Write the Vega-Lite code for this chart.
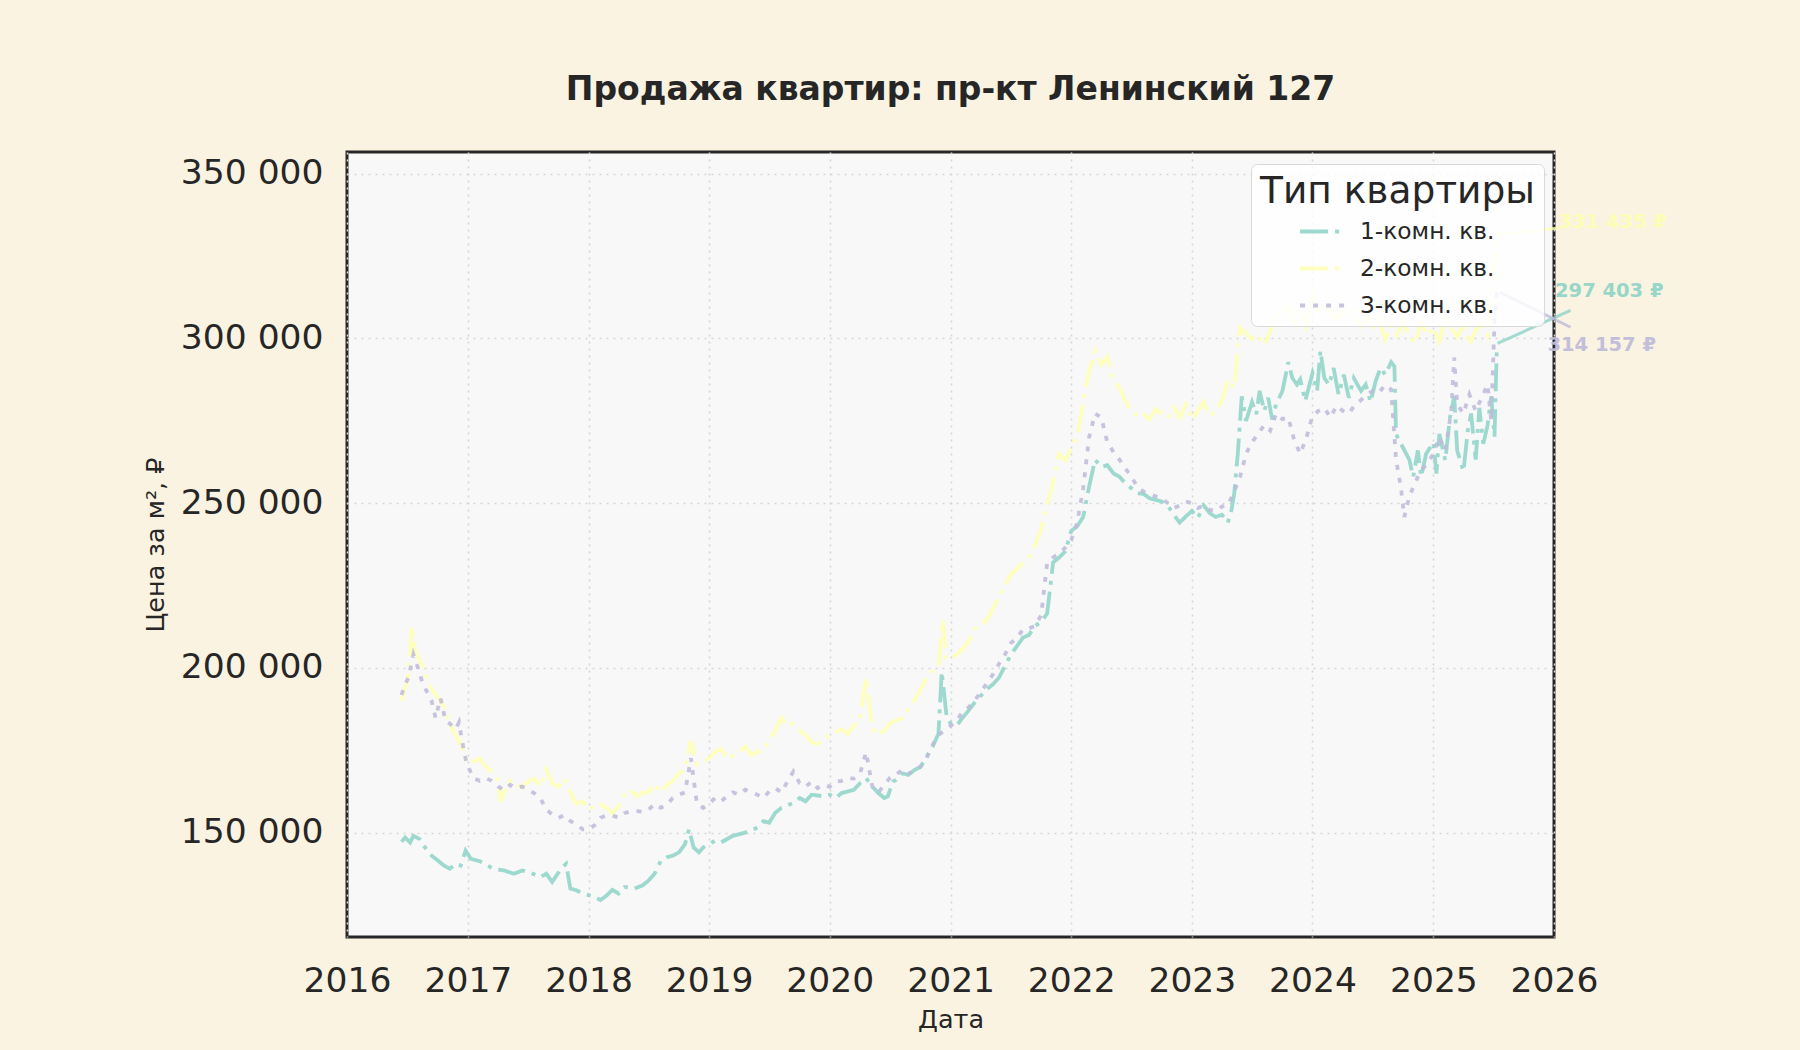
{
  "$schema": "https://vega.github.io/schema/vega-lite/v6.json",
  "width": 1207,
  "height": 785,
  "autosize": {"type": "none"},
  "padding": {"left": 347, "top": 152, "right": 246, "bottom": 113},
  "background": "#faf3e1",
  "title": {
    "text": "Продажа квартир: пр-кт Ленинский 127",
    "font": "DejaVu Sans",
    "fontSize": 33,
    "fontWeight": "bold",
    "color": "#262626",
    "anchor": "middle",
    "offset": 45
  },
  "config": {
    "locale": {"number": {"decimal": ",", "thousands": " ", "grouping": [3], "currency": ["", " ₽"]}},
    "view": {"fill": "#f8f8f8", "stroke": "#262626", "strokeWidth": 3},
    "axis": {
      "labelFont": "DejaVu Sans",
      "labelFontSize": 34.5,
      "labelColor": "#262626",
      "titleFont": "DejaVu Sans",
      "titleFontSize": 25.5,
      "titleFontWeight": "normal",
      "titleColor": "#262626",
      "domain": false,
      "ticks": false,
      "grid": true,
      "gridColor": "#d6d6d6",
      "gridDash": [2, 5],
      "gridWidth": 1.6
    }
  },
  "datasets": {
    "prices": [
      {"d": "2016-06-14", "t": "1-комн. кв.", "v": 147200},
      {"d": "2016-06-25", "t": "1-комн. кв.", "v": 148500},
      {"d": "2016-07-10", "t": "1-комн. кв.", "v": 147000},
      {"d": "2016-07-20", "t": "1-комн. кв.", "v": 149000},
      {"d": "2016-08-08", "t": "1-комн. кв.", "v": 148000},
      {"d": "2016-08-20", "t": "1-комн. кв.", "v": 146000},
      {"d": "2016-09-13", "t": "1-комн. кв.", "v": 143000},
      {"d": "2016-10-02", "t": "1-комн. кв.", "v": 141500},
      {"d": "2016-10-20", "t": "1-комн. кв.", "v": 140000},
      {"d": "2016-11-07", "t": "1-комн. кв.", "v": 139000},
      {"d": "2016-11-25", "t": "1-комн. кв.", "v": 140500},
      {"d": "2016-12-10", "t": "1-комн. кв.", "v": 140000},
      {"d": "2016-12-25", "t": "1-комн. кв.", "v": 144500},
      {"d": "2017-01-10", "t": "1-комн. кв.", "v": 142000},
      {"d": "2017-02-06", "t": "1-комн. кв.", "v": 141300},
      {"d": "2017-03-01", "t": "1-комн. кв.", "v": 140000},
      {"d": "2017-03-20", "t": "1-комн. кв.", "v": 139000},
      {"d": "2017-04-20", "t": "1-комн. кв.", "v": 138500},
      {"d": "2017-05-20", "t": "1-комн. кв.", "v": 137500},
      {"d": "2017-06-15", "t": "1-комн. кв.", "v": 138500},
      {"d": "2017-07-10", "t": "1-комн. кв.", "v": 137800},
      {"d": "2017-08-08", "t": "1-комн. кв.", "v": 136500},
      {"d": "2017-08-26", "t": "1-комн. кв.", "v": 137500},
      {"d": "2017-09-13", "t": "1-комн. кв.", "v": 135000},
      {"d": "2017-09-25", "t": "1-комн. кв.", "v": 136800},
      {"d": "2017-10-10", "t": "1-комн. кв.", "v": 139000},
      {"d": "2017-10-25", "t": "1-комн. кв.", "v": 140500},
      {"d": "2017-11-07", "t": "1-комн. кв.", "v": 133000},
      {"d": "2017-11-25", "t": "1-комн. кв.", "v": 132500},
      {"d": "2017-12-14", "t": "1-комн. кв.", "v": 131500},
      {"d": "2018-01-01", "t": "1-комн. кв.", "v": 131000},
      {"d": "2018-01-19", "t": "1-комн. кв.", "v": 130500},
      {"d": "2018-02-06", "t": "1-комн. кв.", "v": 129500},
      {"d": "2018-02-24", "t": "1-комн. кв.", "v": 130800},
      {"d": "2018-03-14", "t": "1-комн. кв.", "v": 132600},
      {"d": "2018-04-02", "t": "1-комн. кв.", "v": 131500},
      {"d": "2018-04-20", "t": "1-комн. кв.", "v": 133500},
      {"d": "2018-05-20", "t": "1-комн. кв.", "v": 133000},
      {"d": "2018-06-14", "t": "1-комн. кв.", "v": 134000},
      {"d": "2018-07-02", "t": "1-комн. кв.", "v": 135500},
      {"d": "2018-07-20", "t": "1-комн. кв.", "v": 137500},
      {"d": "2018-08-08", "t": "1-комн. кв.", "v": 141500},
      {"d": "2018-08-26", "t": "1-комн. кв.", "v": 142500},
      {"d": "2018-09-13", "t": "1-комн. кв.", "v": 143000},
      {"d": "2018-10-02", "t": "1-комн. кв.", "v": 144000},
      {"d": "2018-10-20", "t": "1-комн. кв.", "v": 146500},
      {"d": "2018-11-01", "t": "1-комн. кв.", "v": 151000},
      {"d": "2018-11-15", "t": "1-комн. кв.", "v": 145500},
      {"d": "2018-12-01", "t": "1-комн. кв.", "v": 144000},
      {"d": "2018-12-14", "t": "1-комн. кв.", "v": 145500},
      {"d": "2019-01-01", "t": "1-комн. кв.", "v": 146500},
      {"d": "2019-01-19", "t": "1-комн. кв.", "v": 147500},
      {"d": "2019-02-06", "t": "1-комн. кв.", "v": 147000},
      {"d": "2019-03-14", "t": "1-комн. кв.", "v": 149000},
      {"d": "2019-04-20", "t": "1-комн. кв.", "v": 150000},
      {"d": "2019-05-27", "t": "1-комн. кв.", "v": 151500},
      {"d": "2019-06-14", "t": "1-комн. кв.", "v": 153500},
      {"d": "2019-07-02", "t": "1-комн. кв.", "v": 153000},
      {"d": "2019-07-20", "t": "1-комн. кв.", "v": 156000},
      {"d": "2019-08-08", "t": "1-комн. кв.", "v": 157500},
      {"d": "2019-09-13", "t": "1-комн. кв.", "v": 159000},
      {"d": "2019-10-02", "t": "1-комн. кв.", "v": 160500},
      {"d": "2019-10-20", "t": "1-комн. кв.", "v": 159500},
      {"d": "2019-11-07", "t": "1-комн. кв.", "v": 161500},
      {"d": "2019-12-14", "t": "1-комн. кв.", "v": 161000},
      {"d": "2020-01-01", "t": "1-комн. кв.", "v": 161500},
      {"d": "2020-01-19", "t": "1-комн. кв.", "v": 160500},
      {"d": "2020-02-06", "t": "1-комн. кв.", "v": 162000},
      {"d": "2020-03-14", "t": "1-комн. кв.", "v": 163000},
      {"d": "2020-04-02", "t": "1-комн. кв.", "v": 165000},
      {"d": "2020-04-20", "t": "1-комн. кв.", "v": 166500},
      {"d": "2020-05-09", "t": "1-комн. кв.", "v": 164000},
      {"d": "2020-05-27", "t": "1-комн. кв.", "v": 162000},
      {"d": "2020-06-14", "t": "1-комн. кв.", "v": 160500},
      {"d": "2020-06-25", "t": "1-комн. кв.", "v": 161000},
      {"d": "2020-07-10", "t": "1-комн. кв.", "v": 165500},
      {"d": "2020-07-20", "t": "1-комн. кв.", "v": 166000},
      {"d": "2020-08-08", "t": "1-комн. кв.", "v": 168000},
      {"d": "2020-08-26", "t": "1-комн. кв.", "v": 167500},
      {"d": "2020-09-13", "t": "1-комн. кв.", "v": 169000},
      {"d": "2020-10-02", "t": "1-комн. кв.", "v": 170000},
      {"d": "2020-10-20", "t": "1-комн. кв.", "v": 173000},
      {"d": "2020-11-07", "t": "1-комн. кв.", "v": 176000},
      {"d": "2020-11-25", "t": "1-комн. кв.", "v": 180000},
      {"d": "2020-12-05", "t": "1-комн. кв.", "v": 198800},
      {"d": "2020-12-20", "t": "1-комн. кв.", "v": 185000},
      {"d": "2021-01-01", "t": "1-комн. кв.", "v": 183100},
      {"d": "2021-01-19", "t": "1-комн. кв.", "v": 182500},
      {"d": "2021-02-06", "t": "1-комн. кв.", "v": 184800},
      {"d": "2021-02-24", "t": "1-комн. кв.", "v": 187000},
      {"d": "2021-03-14", "t": "1-комн. кв.", "v": 189400},
      {"d": "2021-04-02", "t": "1-комн. кв.", "v": 191500},
      {"d": "2021-04-20", "t": "1-комн. кв.", "v": 193500},
      {"d": "2021-05-09", "t": "1-комн. кв.", "v": 195000},
      {"d": "2021-05-27", "t": "1-комн. кв.", "v": 197000},
      {"d": "2021-06-14", "t": "1-комн. кв.", "v": 200500},
      {"d": "2021-07-02", "t": "1-комн. кв.", "v": 204000},
      {"d": "2021-07-20", "t": "1-комн. кв.", "v": 206500},
      {"d": "2021-08-08", "t": "1-комн. кв.", "v": 209200},
      {"d": "2021-08-26", "t": "1-комн. кв.", "v": 210000},
      {"d": "2021-09-13", "t": "1-комн. кв.", "v": 212700},
      {"d": "2021-10-02", "t": "1-комн. кв.", "v": 214000},
      {"d": "2021-10-20", "t": "1-комн. кв.", "v": 216500},
      {"d": "2021-11-07", "t": "1-комн. кв.", "v": 232000},
      {"d": "2021-11-25", "t": "1-комн. кв.", "v": 233500},
      {"d": "2021-12-14", "t": "1-комн. кв.", "v": 235400},
      {"d": "2022-01-01", "t": "1-комн. кв.", "v": 241600},
      {"d": "2022-01-19", "t": "1-комн. кв.", "v": 243000},
      {"d": "2022-02-06", "t": "1-комн. кв.", "v": 245800},
      {"d": "2022-02-24", "t": "1-комн. кв.", "v": 255000},
      {"d": "2022-03-14", "t": "1-комн. кв.", "v": 263200},
      {"d": "2022-04-02", "t": "1-комн. кв.", "v": 261000},
      {"d": "2022-04-20", "t": "1-комн. кв.", "v": 261500},
      {"d": "2022-05-09", "t": "1-комн. кв.", "v": 259000},
      {"d": "2022-05-27", "t": "1-комн. кв.", "v": 258000},
      {"d": "2022-06-14", "t": "1-комн. кв.", "v": 256000},
      {"d": "2022-07-02", "t": "1-комн. кв.", "v": 254500},
      {"d": "2022-07-20", "t": "1-комн. кв.", "v": 253000},
      {"d": "2022-08-08", "t": "1-комн. кв.", "v": 252800},
      {"d": "2022-08-26", "t": "1-комн. кв.", "v": 251500},
      {"d": "2022-09-13", "t": "1-комн. кв.", "v": 251000},
      {"d": "2022-10-02", "t": "1-комн. кв.", "v": 250500},
      {"d": "2022-10-20", "t": "1-комн. кв.", "v": 249300},
      {"d": "2022-11-07", "t": "1-комн. кв.", "v": 246500},
      {"d": "2022-11-25", "t": "1-комн. кв.", "v": 244100},
      {"d": "2022-12-14", "t": "1-комн. кв.", "v": 246000},
      {"d": "2023-01-01", "t": "1-комн. кв.", "v": 247600},
      {"d": "2023-01-19", "t": "1-комн. кв.", "v": 245500},
      {"d": "2023-02-06", "t": "1-комн. кв.", "v": 249300},
      {"d": "2023-02-24", "t": "1-комн. кв.", "v": 247000},
      {"d": "2023-03-14", "t": "1-комн. кв.", "v": 245800},
      {"d": "2023-04-02", "t": "1-комн. кв.", "v": 246500},
      {"d": "2023-04-20", "t": "1-комн. кв.", "v": 244100},
      {"d": "2023-05-01", "t": "1-комн. кв.", "v": 248000},
      {"d": "2023-05-09", "t": "1-комн. кв.", "v": 252800},
      {"d": "2023-05-20", "t": "1-комн. кв.", "v": 265000},
      {"d": "2023-06-01", "t": "1-комн. кв.", "v": 282400},
      {"d": "2023-06-14", "t": "1-комн. кв.", "v": 275000},
      {"d": "2023-07-02", "t": "1-комн. кв.", "v": 280700},
      {"d": "2023-07-15", "t": "1-комн. кв.", "v": 277000},
      {"d": "2023-07-25", "t": "1-комн. кв.", "v": 284100},
      {"d": "2023-08-08", "t": "1-комн. кв.", "v": 278000},
      {"d": "2023-08-20", "t": "1-комн. кв.", "v": 282000},
      {"d": "2023-09-01", "t": "1-комн. кв.", "v": 275400},
      {"d": "2023-09-13", "t": "1-комн. кв.", "v": 280000},
      {"d": "2023-10-02", "t": "1-комн. кв.", "v": 284000},
      {"d": "2023-10-20", "t": "1-комн. кв.", "v": 292800},
      {"d": "2023-11-01", "t": "1-комн. кв.", "v": 288000},
      {"d": "2023-11-15", "t": "1-комн. кв.", "v": 286000},
      {"d": "2023-11-25", "t": "1-комн. кв.", "v": 287600},
      {"d": "2023-12-10", "t": "1-комн. кв.", "v": 281000},
      {"d": "2024-01-01", "t": "1-комн. кв.", "v": 289400},
      {"d": "2024-01-15", "t": "1-комн. кв.", "v": 284000},
      {"d": "2024-01-25", "t": "1-комн. кв.", "v": 296300},
      {"d": "2024-02-06", "t": "1-комн. кв.", "v": 288000},
      {"d": "2024-02-20", "t": "1-комн. кв.", "v": 285900},
      {"d": "2024-03-05", "t": "1-комн. кв.", "v": 291000},
      {"d": "2024-03-20", "t": "1-комн. кв.", "v": 283000},
      {"d": "2024-04-05", "t": "1-комн. кв.", "v": 289000},
      {"d": "2024-04-20", "t": "1-комн. кв.", "v": 282000},
      {"d": "2024-05-05", "t": "1-комн. кв.", "v": 288000},
      {"d": "2024-05-27", "t": "1-комн. кв.", "v": 284100},
      {"d": "2024-06-10", "t": "1-комн. кв.", "v": 286000},
      {"d": "2024-06-25", "t": "1-комн. кв.", "v": 280700},
      {"d": "2024-07-10", "t": "1-комн. кв.", "v": 287000},
      {"d": "2024-07-25", "t": "1-комн. кв.", "v": 291100},
      {"d": "2024-08-08", "t": "1-комн. кв.", "v": 289000},
      {"d": "2024-08-26", "t": "1-комн. кв.", "v": 292800},
      {"d": "2024-09-05", "t": "1-комн. кв.", "v": 291500},
      {"d": "2024-09-10", "t": "1-комн. кв.", "v": 270900},
      {"d": "2024-09-25", "t": "1-комн. кв.", "v": 268000},
      {"d": "2024-10-20", "t": "1-комн. кв.", "v": 263200},
      {"d": "2024-11-01", "t": "1-комн. кв.", "v": 258000},
      {"d": "2024-11-15", "t": "1-комн. кв.", "v": 266000},
      {"d": "2024-11-25", "t": "1-комн. кв.", "v": 258000},
      {"d": "2024-12-10", "t": "1-комн. кв.", "v": 265000},
      {"d": "2025-01-01", "t": "1-комн. кв.", "v": 268500},
      {"d": "2025-01-10", "t": "1-комн. кв.", "v": 259000},
      {"d": "2025-01-19", "t": "1-комн. кв.", "v": 271000},
      {"d": "2025-02-06", "t": "1-комн. кв.", "v": 263000},
      {"d": "2025-02-20", "t": "1-комн. кв.", "v": 276000},
      {"d": "2025-03-05", "t": "1-комн. кв.", "v": 282400},
      {"d": "2025-03-14", "t": "1-комн. кв.", "v": 266000},
      {"d": "2025-04-02", "t": "1-комн. кв.", "v": 259700},
      {"d": "2025-04-15", "t": "1-комн. кв.", "v": 272000},
      {"d": "2025-04-25", "t": "1-комн. кв.", "v": 277200},
      {"d": "2025-05-09", "t": "1-комн. кв.", "v": 263200},
      {"d": "2025-05-20", "t": "1-комн. кв.", "v": 278900},
      {"d": "2025-06-01", "t": "1-комн. кв.", "v": 268000},
      {"d": "2025-06-14", "t": "1-комн. кв.", "v": 273700},
      {"d": "2025-06-25", "t": "1-комн. кв.", "v": 282400},
      {"d": "2025-07-05", "t": "1-комн. кв.", "v": 270200},
      {"d": "2025-07-12", "t": "1-комн. кв.", "v": 297403},

      {"d": "2016-06-14", "t": "2-комн. кв.", "v": 190000},
      {"d": "2016-06-25", "t": "2-комн. кв.", "v": 194000},
      {"d": "2016-07-05", "t": "2-комн. кв.", "v": 198000},
      {"d": "2016-07-15", "t": "2-комн. кв.", "v": 212700},
      {"d": "2016-07-25", "t": "2-комн. кв.", "v": 205000},
      {"d": "2016-08-08", "t": "2-комн. кв.", "v": 202300},
      {"d": "2016-08-26", "t": "2-комн. кв.", "v": 198000},
      {"d": "2016-09-13", "t": "2-комн. кв.", "v": 193500},
      {"d": "2016-10-02", "t": "2-комн. кв.", "v": 191000},
      {"d": "2016-10-20", "t": "2-комн. кв.", "v": 188300},
      {"d": "2016-11-07", "t": "2-комн. кв.", "v": 183000},
      {"d": "2016-11-25", "t": "2-комн. кв.", "v": 179600},
      {"d": "2016-12-14", "t": "2-комн. кв.", "v": 176100},
      {"d": "2017-01-01", "t": "2-комн. кв.", "v": 170900},
      {"d": "2017-01-19", "t": "2-комн. кв.", "v": 171500},
      {"d": "2017-02-06", "t": "2-комн. кв.", "v": 172600},
      {"d": "2017-02-24", "t": "2-комн. кв.", "v": 170000},
      {"d": "2017-03-14", "t": "2-комн. кв.", "v": 168500},
      {"d": "2017-04-02", "t": "2-комн. кв.", "v": 166000},
      {"d": "2017-04-10", "t": "2-комн. кв.", "v": 159400},
      {"d": "2017-04-20", "t": "2-комн. кв.", "v": 162200},
      {"d": "2017-05-09", "t": "2-комн. кв.", "v": 165700},
      {"d": "2017-05-27", "t": "2-комн. кв.", "v": 164000},
      {"d": "2017-06-14", "t": "2-комн. кв.", "v": 163900},
      {"d": "2017-07-02", "t": "2-комн. кв.", "v": 165500},
      {"d": "2017-07-20", "t": "2-комн. кв.", "v": 166400},
      {"d": "2017-08-08", "t": "2-комн. кв.", "v": 164000},
      {"d": "2017-08-26", "t": "2-комн. кв.", "v": 169200},
      {"d": "2017-09-13", "t": "2-комн. кв.", "v": 165000},
      {"d": "2017-10-02", "t": "2-комн. кв.", "v": 163900},
      {"d": "2017-10-20", "t": "2-комн. кв.", "v": 166400},
      {"d": "2017-11-07", "t": "2-комн. кв.", "v": 162200},
      {"d": "2017-11-25", "t": "2-комн. кв.", "v": 158700},
      {"d": "2017-12-14", "t": "2-комн. кв.", "v": 159500},
      {"d": "2018-01-01", "t": "2-комн. кв.", "v": 157000},
      {"d": "2018-01-19", "t": "2-комн. кв.", "v": 158000},
      {"d": "2018-02-06", "t": "2-комн. кв.", "v": 158700},
      {"d": "2018-02-24", "t": "2-комн. кв.", "v": 157500},
      {"d": "2018-03-14", "t": "2-комн. кв.", "v": 155900},
      {"d": "2018-04-02", "t": "2-комн. кв.", "v": 158000},
      {"d": "2018-04-20", "t": "2-комн. кв.", "v": 161500},
      {"d": "2018-05-09", "t": "2-комн. кв.", "v": 162900},
      {"d": "2018-05-27", "t": "2-комн. кв.", "v": 161000},
      {"d": "2018-06-14", "t": "2-комн. кв.", "v": 162200},
      {"d": "2018-07-02", "t": "2-комн. кв.", "v": 162200},
      {"d": "2018-07-20", "t": "2-комн. кв.", "v": 164800},
      {"d": "2018-08-08", "t": "2-комн. кв.", "v": 162200},
      {"d": "2018-08-26", "t": "2-комн. кв.", "v": 164500},
      {"d": "2018-09-13", "t": "2-комн. кв.", "v": 165700},
      {"d": "2018-10-02", "t": "2-комн. кв.", "v": 168000},
      {"d": "2018-10-20", "t": "2-комн. кв.", "v": 169200},
      {"d": "2018-11-07", "t": "2-комн. кв.", "v": 177900},
      {"d": "2018-11-25", "t": "2-комн. кв.", "v": 170900},
      {"d": "2018-12-14", "t": "2-комн. кв.", "v": 171500},
      {"d": "2019-01-01", "t": "2-комн. кв.", "v": 172600},
      {"d": "2019-01-19", "t": "2-комн. кв.", "v": 174500},
      {"d": "2019-02-06", "t": "2-комн. кв.", "v": 175400},
      {"d": "2019-02-24", "t": "2-комн. кв.", "v": 172500},
      {"d": "2019-03-14", "t": "2-комн. кв.", "v": 173300},
      {"d": "2019-04-02", "t": "2-комн. кв.", "v": 174500},
      {"d": "2019-04-20", "t": "2-комн. кв.", "v": 176100},
      {"d": "2019-05-09", "t": "2-комн. кв.", "v": 173500},
      {"d": "2019-05-27", "t": "2-комн. кв.", "v": 174500},
      {"d": "2019-06-14", "t": "2-комн. кв.", "v": 175000},
      {"d": "2019-07-02", "t": "2-комн. кв.", "v": 177900},
      {"d": "2019-07-20", "t": "2-комн. кв.", "v": 181000},
      {"d": "2019-08-08", "t": "2-комн. кв.", "v": 184800},
      {"d": "2019-08-26", "t": "2-комн. кв.", "v": 182400},
      {"d": "2019-09-13", "t": "2-комн. кв.", "v": 183100},
      {"d": "2019-10-02", "t": "2-комн. кв.", "v": 181000},
      {"d": "2019-10-20", "t": "2-комн. кв.", "v": 179600},
      {"d": "2019-11-07", "t": "2-комн. кв.", "v": 177500},
      {"d": "2019-11-25", "t": "2-комн. кв.", "v": 176800},
      {"d": "2019-12-14", "t": "2-комн. кв.", "v": 178500},
      {"d": "2020-01-01", "t": "2-комн. кв.", "v": 179600},
      {"d": "2020-01-19", "t": "2-комн. кв.", "v": 180500},
      {"d": "2020-02-06", "t": "2-комн. кв.", "v": 181400},
      {"d": "2020-02-24", "t": "2-комн. кв.", "v": 180000},
      {"d": "2020-03-14", "t": "2-комн. кв.", "v": 182400},
      {"d": "2020-04-02", "t": "2-комн. кв.", "v": 184800},
      {"d": "2020-04-20", "t": "2-комн. кв.", "v": 197000},
      {"d": "2020-05-09", "t": "2-комн. кв.", "v": 181400},
      {"d": "2020-05-27", "t": "2-комн. кв.", "v": 179600},
      {"d": "2020-06-14", "t": "2-комн. кв.", "v": 181000},
      {"d": "2020-07-02", "t": "2-комн. кв.", "v": 183100},
      {"d": "2020-07-20", "t": "2-комн. кв.", "v": 184000},
      {"d": "2020-08-08", "t": "2-комн. кв.", "v": 184800},
      {"d": "2020-08-26", "t": "2-комн. кв.", "v": 187500},
      {"d": "2020-09-13", "t": "2-комн. кв.", "v": 190100},
      {"d": "2020-10-02", "t": "2-комн. кв.", "v": 193500},
      {"d": "2020-10-20", "t": "2-комн. кв.", "v": 197000},
      {"d": "2020-11-07", "t": "2-комн. кв.", "v": 199000},
      {"d": "2020-11-25", "t": "2-комн. кв.", "v": 200500},
      {"d": "2020-12-08", "t": "2-комн. кв.", "v": 214500},
      {"d": "2020-12-20", "t": "2-комн. кв.", "v": 203000},
      {"d": "2021-01-01", "t": "2-комн. кв.", "v": 202300},
      {"d": "2021-01-19", "t": "2-комн. кв.", "v": 204000},
      {"d": "2021-02-06", "t": "2-комн. кв.", "v": 205700},
      {"d": "2021-02-24", "t": "2-комн. кв.", "v": 208000},
      {"d": "2021-03-14", "t": "2-комн. кв.", "v": 211700},
      {"d": "2021-04-02", "t": "2-комн. кв.", "v": 213000},
      {"d": "2021-04-20", "t": "2-комн. кв.", "v": 214500},
      {"d": "2021-05-09", "t": "2-комн. кв.", "v": 218000},
      {"d": "2021-05-27", "t": "2-комн. кв.", "v": 221400},
      {"d": "2021-06-14", "t": "2-комн. кв.", "v": 225000},
      {"d": "2021-07-02", "t": "2-комн. кв.", "v": 228400},
      {"d": "2021-07-20", "t": "2-комн. кв.", "v": 230000},
      {"d": "2021-08-08", "t": "2-комн. кв.", "v": 231900},
      {"d": "2021-08-26", "t": "2-комн. кв.", "v": 233500},
      {"d": "2021-09-13", "t": "2-комн. кв.", "v": 237100},
      {"d": "2021-10-02", "t": "2-комн. кв.", "v": 242000},
      {"d": "2021-10-20", "t": "2-комн. кв.", "v": 249300},
      {"d": "2021-11-07", "t": "2-комн. кв.", "v": 256300},
      {"d": "2021-11-25", "t": "2-комн. кв.", "v": 265000},
      {"d": "2021-12-14", "t": "2-комн. кв.", "v": 263000},
      {"d": "2022-01-01", "t": "2-комн. кв.", "v": 266700},
      {"d": "2022-01-19", "t": "2-комн. кв.", "v": 270000},
      {"d": "2022-02-06", "t": "2-комн. кв.", "v": 280700},
      {"d": "2022-02-24", "t": "2-комн. кв.", "v": 290000},
      {"d": "2022-03-14", "t": "2-комн. кв.", "v": 296300},
      {"d": "2022-04-02", "t": "2-комн. кв.", "v": 292000},
      {"d": "2022-04-20", "t": "2-комн. кв.", "v": 294500},
      {"d": "2022-05-09", "t": "2-комн. кв.", "v": 287600},
      {"d": "2022-05-27", "t": "2-комн. кв.", "v": 285000},
      {"d": "2022-06-14", "t": "2-комн. кв.", "v": 281000},
      {"d": "2022-07-02", "t": "2-комн. кв.", "v": 277900},
      {"d": "2022-07-20", "t": "2-комн. кв.", "v": 276500},
      {"d": "2022-08-08", "t": "2-комн. кв.", "v": 277200},
      {"d": "2022-08-26", "t": "2-комн. кв.", "v": 275500},
      {"d": "2022-09-13", "t": "2-комн. кв.", "v": 278500},
      {"d": "2022-10-02", "t": "2-комн. кв.", "v": 277200},
      {"d": "2022-10-20", "t": "2-комн. кв.", "v": 275800},
      {"d": "2022-11-07", "t": "2-комн. кв.", "v": 279000},
      {"d": "2022-11-25", "t": "2-комн. кв.", "v": 276000},
      {"d": "2022-12-14", "t": "2-комн. кв.", "v": 280000},
      {"d": "2023-01-01", "t": "2-комн. кв.", "v": 275400},
      {"d": "2023-01-19", "t": "2-комн. кв.", "v": 278000},
      {"d": "2023-02-06", "t": "2-комн. кв.", "v": 280700},
      {"d": "2023-02-24", "t": "2-комн. кв.", "v": 276500},
      {"d": "2023-03-14", "t": "2-комн. кв.", "v": 277900},
      {"d": "2023-04-02", "t": "2-комн. кв.", "v": 281000},
      {"d": "2023-04-20", "t": "2-комн. кв.", "v": 287600},
      {"d": "2023-05-09", "t": "2-комн. кв.", "v": 285000},
      {"d": "2023-05-27", "t": "2-комн. кв.", "v": 303300},
      {"d": "2023-06-14", "t": "2-комн. кв.", "v": 301500},
      {"d": "2023-07-02", "t": "2-комн. кв.", "v": 299800},
      {"d": "2023-07-20", "t": "2-комн. кв.", "v": 301000},
      {"d": "2023-08-08", "t": "2-комн. кв.", "v": 298000},
      {"d": "2023-08-26", "t": "2-комн. кв.", "v": 302000},
      {"d": "2023-09-13", "t": "2-комн. кв.", "v": 308000},
      {"d": "2023-10-02", "t": "2-комн. кв.", "v": 306500},
      {"d": "2023-10-20", "t": "2-комн. кв.", "v": 310000},
      {"d": "2023-11-07", "t": "2-комн. кв.", "v": 305000},
      {"d": "2023-11-25", "t": "2-комн. кв.", "v": 309000},
      {"d": "2023-12-14", "t": "2-комн. кв.", "v": 304000},
      {"d": "2024-01-01", "t": "2-комн. кв.", "v": 315000},
      {"d": "2024-01-19", "t": "2-комн. кв.", "v": 307000},
      {"d": "2024-02-06", "t": "2-комн. кв.", "v": 311000},
      {"d": "2024-03-14", "t": "2-комн. кв.", "v": 306000},
      {"d": "2024-04-20", "t": "2-комн. кв.", "v": 309000},
      {"d": "2024-05-27", "t": "2-комн. кв.", "v": 304000},
      {"d": "2024-06-14", "t": "2-комн. кв.", "v": 307000},
      {"d": "2024-07-02", "t": "2-комн. кв.", "v": 303000},
      {"d": "2024-07-20", "t": "2-комн. кв.", "v": 306000},
      {"d": "2024-08-08", "t": "2-комн. кв.", "v": 299800},
      {"d": "2024-08-26", "t": "2-комн. кв.", "v": 304000},
      {"d": "2024-09-13", "t": "2-комн. кв.", "v": 301000},
      {"d": "2024-10-02", "t": "2-комн. кв.", "v": 305000},
      {"d": "2024-10-20", "t": "2-комн. кв.", "v": 300500},
      {"d": "2024-11-07", "t": "2-комн. кв.", "v": 298500},
      {"d": "2024-11-25", "t": "2-комн. кв.", "v": 305000},
      {"d": "2024-12-14", "t": "2-комн. кв.", "v": 301000},
      {"d": "2025-01-01", "t": "2-комн. кв.", "v": 303300},
      {"d": "2025-01-19", "t": "2-комн. кв.", "v": 299000},
      {"d": "2025-02-06", "t": "2-комн. кв.", "v": 306000},
      {"d": "2025-03-14", "t": "2-комн. кв.", "v": 300500},
      {"d": "2025-04-02", "t": "2-комн. кв.", "v": 304000},
      {"d": "2025-04-20", "t": "2-комн. кв.", "v": 298000},
      {"d": "2025-05-09", "t": "2-комн. кв.", "v": 302500},
      {"d": "2025-05-27", "t": "2-комн. кв.", "v": 304500},
      {"d": "2025-06-14", "t": "2-комн. кв.", "v": 301000},
      {"d": "2025-07-02", "t": "2-комн. кв.", "v": 318000},
      {"d": "2025-07-12", "t": "2-комн. кв.", "v": 331435},

      {"d": "2016-06-14", "t": "3-комн. кв.", "v": 191800},
      {"d": "2016-06-25", "t": "3-комн. кв.", "v": 195000},
      {"d": "2016-07-05", "t": "3-комн. кв.", "v": 197000},
      {"d": "2016-07-20", "t": "3-комн. кв.", "v": 204000},
      {"d": "2016-08-01", "t": "3-комн. кв.", "v": 200500},
      {"d": "2016-08-15", "t": "3-комн. кв.", "v": 196000},
      {"d": "2016-08-26", "t": "3-комн. кв.", "v": 193500},
      {"d": "2016-09-13", "t": "3-комн. кв.", "v": 190000},
      {"d": "2016-09-25", "t": "3-комн. кв.", "v": 184800},
      {"d": "2016-10-10", "t": "3-комн. кв.", "v": 190800},
      {"d": "2016-10-25", "t": "3-комн. кв.", "v": 184000},
      {"d": "2016-11-07", "t": "3-комн. кв.", "v": 183100},
      {"d": "2016-11-25", "t": "3-комн. кв.", "v": 181400},
      {"d": "2016-12-05", "t": "3-комн. кв.", "v": 183500},
      {"d": "2016-12-14", "t": "3-комн. кв.", "v": 177900},
      {"d": "2016-12-28", "t": "3-комн. кв.", "v": 170900},
      {"d": "2017-01-19", "t": "3-комн. кв.", "v": 166400},
      {"d": "2017-02-06", "t": "3-комн. кв.", "v": 165700},
      {"d": "2017-02-24", "t": "3-комн. кв.", "v": 166500},
      {"d": "2017-03-14", "t": "3-комн. кв.", "v": 165700},
      {"d": "2017-04-02", "t": "3-комн. кв.", "v": 164000},
      {"d": "2017-04-20", "t": "3-комн. кв.", "v": 162900},
      {"d": "2017-05-09", "t": "3-комн. кв.", "v": 164500},
      {"d": "2017-05-27", "t": "3-комн. кв.", "v": 163500},
      {"d": "2017-06-14", "t": "3-комн. кв.", "v": 164000},
      {"d": "2017-07-02", "t": "3-комн. кв.", "v": 163000},
      {"d": "2017-07-20", "t": "3-комн. кв.", "v": 162000},
      {"d": "2017-08-08", "t": "3-комн. кв.", "v": 160500},
      {"d": "2017-08-26", "t": "3-комн. кв.", "v": 157000},
      {"d": "2017-09-13", "t": "3-комн. кв.", "v": 155500},
      {"d": "2017-10-02", "t": "3-комн. кв.", "v": 154500},
      {"d": "2017-10-20", "t": "3-комн. кв.", "v": 155300},
      {"d": "2017-11-07", "t": "3-комн. кв.", "v": 153500},
      {"d": "2017-11-25", "t": "3-комн. кв.", "v": 152500},
      {"d": "2017-12-14", "t": "3-комн. кв.", "v": 151000},
      {"d": "2018-01-01", "t": "3-комн. кв.", "v": 151000},
      {"d": "2018-01-19", "t": "3-комн. кв.", "v": 152200},
      {"d": "2018-02-06", "t": "3-комн. кв.", "v": 154500},
      {"d": "2018-02-24", "t": "3-комн. кв.", "v": 155200},
      {"d": "2018-03-14", "t": "3-комн. кв.", "v": 155200},
      {"d": "2018-04-02", "t": "3-комн. кв.", "v": 154500},
      {"d": "2018-04-20", "t": "3-комн. кв.", "v": 155900},
      {"d": "2018-05-09", "t": "3-комн. кв.", "v": 156500},
      {"d": "2018-05-27", "t": "3-комн. кв.", "v": 156500},
      {"d": "2018-06-14", "t": "3-комн. кв.", "v": 156300},
      {"d": "2018-07-02", "t": "3-комн. кв.", "v": 157000},
      {"d": "2018-07-20", "t": "3-комн. кв.", "v": 158700},
      {"d": "2018-08-08", "t": "3-комн. кв.", "v": 157500},
      {"d": "2018-08-26", "t": "3-комн. кв.", "v": 158500},
      {"d": "2018-09-13", "t": "3-комн. кв.", "v": 160500},
      {"d": "2018-10-02", "t": "3-комн. кв.", "v": 161500},
      {"d": "2018-10-20", "t": "3-комн. кв.", "v": 162200},
      {"d": "2018-11-07", "t": "3-комн. кв.", "v": 172600},
      {"d": "2018-11-25", "t": "3-комн. кв.", "v": 158700},
      {"d": "2018-12-14", "t": "3-комн. кв.", "v": 157500},
      {"d": "2019-01-01", "t": "3-комн. кв.", "v": 158700},
      {"d": "2019-01-19", "t": "3-комн. кв.", "v": 160500},
      {"d": "2019-02-06", "t": "3-комн. кв.", "v": 159500},
      {"d": "2019-02-24", "t": "3-комн. кв.", "v": 161000},
      {"d": "2019-03-14", "t": "3-комн. кв.", "v": 162200},
      {"d": "2019-04-02", "t": "3-комн. кв.", "v": 161500},
      {"d": "2019-04-20", "t": "3-комн. кв.", "v": 163000},
      {"d": "2019-05-09", "t": "3-комн. кв.", "v": 162200},
      {"d": "2019-05-27", "t": "3-комн. кв.", "v": 161500},
      {"d": "2019-06-14", "t": "3-комн. кв.", "v": 160500},
      {"d": "2019-07-02", "t": "3-комн. кв.", "v": 162500},
      {"d": "2019-07-20", "t": "3-комн. кв.", "v": 163500},
      {"d": "2019-08-08", "t": "3-комн. кв.", "v": 162200},
      {"d": "2019-08-26", "t": "3-комн. кв.", "v": 165500},
      {"d": "2019-09-13", "t": "3-комн. кв.", "v": 168500},
      {"d": "2019-10-02", "t": "3-комн. кв.", "v": 165000},
      {"d": "2019-10-20", "t": "3-комн. кв.", "v": 163900},
      {"d": "2019-11-07", "t": "3-комн. кв.", "v": 165500},
      {"d": "2019-11-25", "t": "3-комн. кв.", "v": 163500},
      {"d": "2019-12-14", "t": "3-комн. кв.", "v": 164500},
      {"d": "2020-01-01", "t": "3-комн. кв.", "v": 163900},
      {"d": "2020-01-19", "t": "3-комн. кв.", "v": 165500},
      {"d": "2020-02-06", "t": "3-комн. кв.", "v": 165700},
      {"d": "2020-02-24", "t": "3-комн. кв.", "v": 166500},
      {"d": "2020-03-14", "t": "3-комн. кв.", "v": 166400},
      {"d": "2020-04-02", "t": "3-комн. кв.", "v": 168000},
      {"d": "2020-04-20", "t": "3-комн. кв.", "v": 174400},
      {"d": "2020-05-09", "t": "3-комн. кв.", "v": 163900},
      {"d": "2020-05-27", "t": "3-комн. кв.", "v": 162200},
      {"d": "2020-06-14", "t": "3-комн. кв.", "v": 164500},
      {"d": "2020-07-02", "t": "3-комн. кв.", "v": 166700},
      {"d": "2020-07-20", "t": "3-комн. кв.", "v": 167500},
      {"d": "2020-08-08", "t": "3-комн. кв.", "v": 169200},
      {"d": "2020-08-26", "t": "3-комн. кв.", "v": 168000},
      {"d": "2020-09-13", "t": "3-комн. кв.", "v": 168500},
      {"d": "2020-10-02", "t": "3-комн. кв.", "v": 170000},
      {"d": "2020-10-20", "t": "3-комн. кв.", "v": 172600},
      {"d": "2020-11-07", "t": "3-комн. кв.", "v": 176500},
      {"d": "2020-11-25", "t": "3-комн. кв.", "v": 179600},
      {"d": "2020-12-14", "t": "3-комн. кв.", "v": 181000},
      {"d": "2021-01-01", "t": "3-комн. кв.", "v": 182400},
      {"d": "2021-01-19", "t": "3-комн. кв.", "v": 184000},
      {"d": "2021-02-06", "t": "3-комн. кв.", "v": 186600},
      {"d": "2021-02-24", "t": "3-комн. кв.", "v": 188000},
      {"d": "2021-03-14", "t": "3-комн. кв.", "v": 190100},
      {"d": "2021-04-02", "t": "3-комн. кв.", "v": 192500},
      {"d": "2021-04-20", "t": "3-комн. кв.", "v": 195300},
      {"d": "2021-05-09", "t": "3-комн. кв.", "v": 198000},
      {"d": "2021-05-27", "t": "3-комн. кв.", "v": 201200},
      {"d": "2021-06-14", "t": "3-комн. кв.", "v": 204000},
      {"d": "2021-07-02", "t": "3-комн. кв.", "v": 207500},
      {"d": "2021-07-20", "t": "3-комн. кв.", "v": 209000},
      {"d": "2021-08-08", "t": "3-комн. кв.", "v": 211700},
      {"d": "2021-08-26", "t": "3-комн. кв.", "v": 212000},
      {"d": "2021-09-13", "t": "3-комн. кв.", "v": 212700},
      {"d": "2021-10-02", "t": "3-комн. кв.", "v": 216000},
      {"d": "2021-10-20", "t": "3-комн. кв.", "v": 231900},
      {"d": "2021-11-07", "t": "3-комн. кв.", "v": 233500},
      {"d": "2021-11-25", "t": "3-комн. кв.", "v": 234700},
      {"d": "2021-12-14", "t": "3-комн. кв.", "v": 236500},
      {"d": "2022-01-01", "t": "3-комн. кв.", "v": 238800},
      {"d": "2022-01-19", "t": "3-комн. кв.", "v": 244100},
      {"d": "2022-02-06", "t": "3-комн. кв.", "v": 254500},
      {"d": "2022-02-24", "t": "3-комн. кв.", "v": 270000},
      {"d": "2022-03-14", "t": "3-комн. кв.", "v": 277200},
      {"d": "2022-04-02", "t": "3-комн. кв.", "v": 276000},
      {"d": "2022-04-20", "t": "3-комн. кв.", "v": 268500},
      {"d": "2022-05-09", "t": "3-комн. кв.", "v": 265500},
      {"d": "2022-05-27", "t": "3-комн. кв.", "v": 263200},
      {"d": "2022-06-14", "t": "3-комн. кв.", "v": 260500},
      {"d": "2022-07-02", "t": "3-комн. кв.", "v": 258000},
      {"d": "2022-07-20", "t": "3-комн. кв.", "v": 255000},
      {"d": "2022-08-08", "t": "3-комн. кв.", "v": 253500},
      {"d": "2022-08-26", "t": "3-комн. кв.", "v": 252800},
      {"d": "2022-09-13", "t": "3-комн. кв.", "v": 252100},
      {"d": "2022-10-02", "t": "3-комн. кв.", "v": 251500},
      {"d": "2022-10-20", "t": "3-комн. кв.", "v": 250000},
      {"d": "2022-11-07", "t": "3-комн. кв.", "v": 248500},
      {"d": "2022-11-25", "t": "3-комн. кв.", "v": 249300},
      {"d": "2022-12-14", "t": "3-комн. кв.", "v": 250500},
      {"d": "2023-01-01", "t": "3-комн. кв.", "v": 250000},
      {"d": "2023-01-19", "t": "3-комн. кв.", "v": 248500},
      {"d": "2023-02-06", "t": "3-комн. кв.", "v": 249300},
      {"d": "2023-02-24", "t": "3-комн. кв.", "v": 248000},
      {"d": "2023-03-14", "t": "3-комн. кв.", "v": 247600},
      {"d": "2023-04-02", "t": "3-комн. кв.", "v": 249000},
      {"d": "2023-04-20", "t": "3-комн. кв.", "v": 249300},
      {"d": "2023-05-09", "t": "3-комн. кв.", "v": 253500},
      {"d": "2023-05-27", "t": "3-комн. кв.", "v": 258000},
      {"d": "2023-06-14", "t": "3-комн. кв.", "v": 265000},
      {"d": "2023-07-02", "t": "3-комн. кв.", "v": 268500},
      {"d": "2023-07-20", "t": "3-комн. кв.", "v": 271000},
      {"d": "2023-08-08", "t": "3-комн. кв.", "v": 273700},
      {"d": "2023-08-26", "t": "3-комн. кв.", "v": 272000},
      {"d": "2023-09-13", "t": "3-комн. кв.", "v": 277200},
      {"d": "2023-10-02", "t": "3-комн. кв.", "v": 275500},
      {"d": "2023-10-20", "t": "3-комн. кв.", "v": 276000},
      {"d": "2023-11-07", "t": "3-комн. кв.", "v": 269000},
      {"d": "2023-11-25", "t": "3-комн. кв.", "v": 265000},
      {"d": "2023-12-14", "t": "3-комн. кв.", "v": 270000},
      {"d": "2024-01-01", "t": "3-комн. кв.", "v": 276500},
      {"d": "2024-01-19", "t": "3-комн. кв.", "v": 278000},
      {"d": "2024-02-06", "t": "3-комн. кв.", "v": 278900},
      {"d": "2024-02-24", "t": "3-комн. кв.", "v": 276000},
      {"d": "2024-03-14", "t": "3-комн. кв.", "v": 279500},
      {"d": "2024-04-02", "t": "3-комн. кв.", "v": 278000},
      {"d": "2024-04-20", "t": "3-комн. кв.", "v": 277200},
      {"d": "2024-05-09", "t": "3-комн. кв.", "v": 280000},
      {"d": "2024-05-27", "t": "3-комн. кв.", "v": 281300},
      {"d": "2024-06-14", "t": "3-комн. кв.", "v": 283000},
      {"d": "2024-07-02", "t": "3-комн. кв.", "v": 284100},
      {"d": "2024-07-20", "t": "3-комн. кв.", "v": 283500},
      {"d": "2024-08-08", "t": "3-комн. кв.", "v": 285900},
      {"d": "2024-08-26", "t": "3-комн. кв.", "v": 284500},
      {"d": "2024-09-10", "t": "3-комн. кв.", "v": 263200},
      {"d": "2024-09-25", "t": "3-комн. кв.", "v": 254500},
      {"d": "2024-10-05", "t": "3-комн. кв.", "v": 245800},
      {"d": "2024-10-20", "t": "3-комн. кв.", "v": 252000},
      {"d": "2024-11-07", "t": "3-комн. кв.", "v": 256300},
      {"d": "2024-11-25", "t": "3-комн. кв.", "v": 260000},
      {"d": "2024-12-14", "t": "3-комн. кв.", "v": 262000},
      {"d": "2025-01-01", "t": "3-комн. кв.", "v": 265000},
      {"d": "2025-01-19", "t": "3-комн. кв.", "v": 270000},
      {"d": "2025-02-06", "t": "3-комн. кв.", "v": 266000},
      {"d": "2025-02-24", "t": "3-комн. кв.", "v": 278000},
      {"d": "2025-03-05", "t": "3-комн. кв.", "v": 294200},
      {"d": "2025-03-14", "t": "3-комн. кв.", "v": 280000},
      {"d": "2025-04-02", "t": "3-комн. кв.", "v": 277200},
      {"d": "2025-04-20", "t": "3-комн. кв.", "v": 283000},
      {"d": "2025-05-09", "t": "3-комн. кв.", "v": 278000},
      {"d": "2025-05-27", "t": "3-комн. кв.", "v": 282000},
      {"d": "2025-06-14", "t": "3-комн. кв.", "v": 286000},
      {"d": "2025-06-25", "t": "3-комн. кв.", "v": 275000},
      {"d": "2025-07-05", "t": "3-комн. кв.", "v": 305400},
      {"d": "2025-07-12", "t": "3-комн. кв.", "v": 314157}
    ],
    "labels": [
      {"t": "2-комн. кв.", "label": "331 435 ₽", "d": "2026-01-15", "v": 335200, "d0": "2026-01-15", "v0": 333500, "d1": "2025-07-12", "v1": 331435},
      {"t": "1-комн. кв.", "label": "297 403 ₽", "d": "2026-01-04", "v": 314300, "d0": "2026-02-20", "v0": 308500, "d1": "2025-07-14", "v1": 298500},
      {"t": "3-комн. кв.", "label": "314 157 ₽", "d": "2025-12-12", "v": 297900, "d0": "2026-02-20", "v0": 303400, "d1": "2025-07-22", "v1": 314000}
    ]
  },
  "layer": [
    {
      "data": {"name": "prices"},
      "mark": {"type": "line", "strokeWidth": 3.8, "opacity": 0.85, "strokeCap": "butt"},
      "encoding": {
        "x": {
          "field": "d", "type": "temporal",
          "scale": {"domain": [{"year": 2016, "month": 1, "date": 1}, {"year": 2026, "month": 1, "date": 1}]},
          "axis": {"title": "Дата", "format": "%Y", "tickCount": {"interval": "year", "step": 1}, "labelPadding": 27, "titlePadding": 10, "labelFlush": false}
        },
        "y": {
          "field": "v", "type": "quantitative",
          "scale": {"domain": [118300, 356600], "nice": false, "zero": false},
          "axis": {"title": "Цена за м², ₽", "values": [150000, 200000, 250000, 300000, 350000], "format": ",d", "labelPadding": 24, "titlePadding": 12}
        },
        "color": {
          "field": "t", "type": "nominal",
          "scale": {"domain": ["1-комн. кв.", "2-комн. кв.", "3-комн. кв."], "range": ["#8dd3c7", "#ffffb3", "#bebada"]},
          "legend": {
            "title": "Тип квартиры",
            "orient": "none",
            "legendX": 904,
            "legendY": 12,
            "titleFont": "DejaVu Sans",
            "titleFontSize": 37.5,
            "titleFontWeight": "normal",
            "titleColor": "#262626",
            "titleLimit": 600,
            "titlePadding": -4,
            "labelFont": "DejaVu Sans",
            "labelFontSize": 23.3,
            "labelColor": "#262626",
            "labelLimit": 400,
            "fillColor": "rgba(255,255,255,0.82)",
            "strokeColor": "#d9d9d9",
            "cornerRadius": 6,
            "padding": 9,
            "symbolType": "stroke",
            "symbolStrokeWidth": 3.8,
            "symbolSize": 2100,
            "symbolOffset": 38,
            "labelOffset": 12,
            "rowPadding": -1,
            "symbolOpacity": 0.85
          }
        },
        "strokeDash": {
          "field": "t", "type": "nominal",
          "scale": {"domain": ["1-комн. кв.", "2-комн. кв.", "3-комн. кв."], "range": [[28, 7, 4, 7], [28, 7, 4, 7], [5, 8]]},
          "legend": null
        }
      }
    },
    {
      "data": {"name": "labels"},
      "mark": {"type": "rule", "strokeWidth": 3, "opacity": 0.8},
      "encoding": {
        "x": {"field": "d0", "type": "temporal"},
        "y": {"field": "v0", "type": "quantitative"},
        "x2": {"field": "d1"},
        "y2": {"field": "v1"},
        "color": {"field": "t", "type": "nominal", "legend": null}
      }
    },
    {
      "data": {"name": "labels"},
      "mark": {"type": "text", "align": "left", "baseline": "middle", "font": "DejaVu Sans", "fontSize": 19.5, "fontWeight": "bold", "opacity": 0.9},
      "encoding": {
        "x": {"field": "d", "type": "temporal"},
        "y": {"field": "v", "type": "quantitative"},
        "text": {"field": "label"},
        "color": {"field": "t", "type": "nominal", "legend": null}
      }
    }
  ]
}
